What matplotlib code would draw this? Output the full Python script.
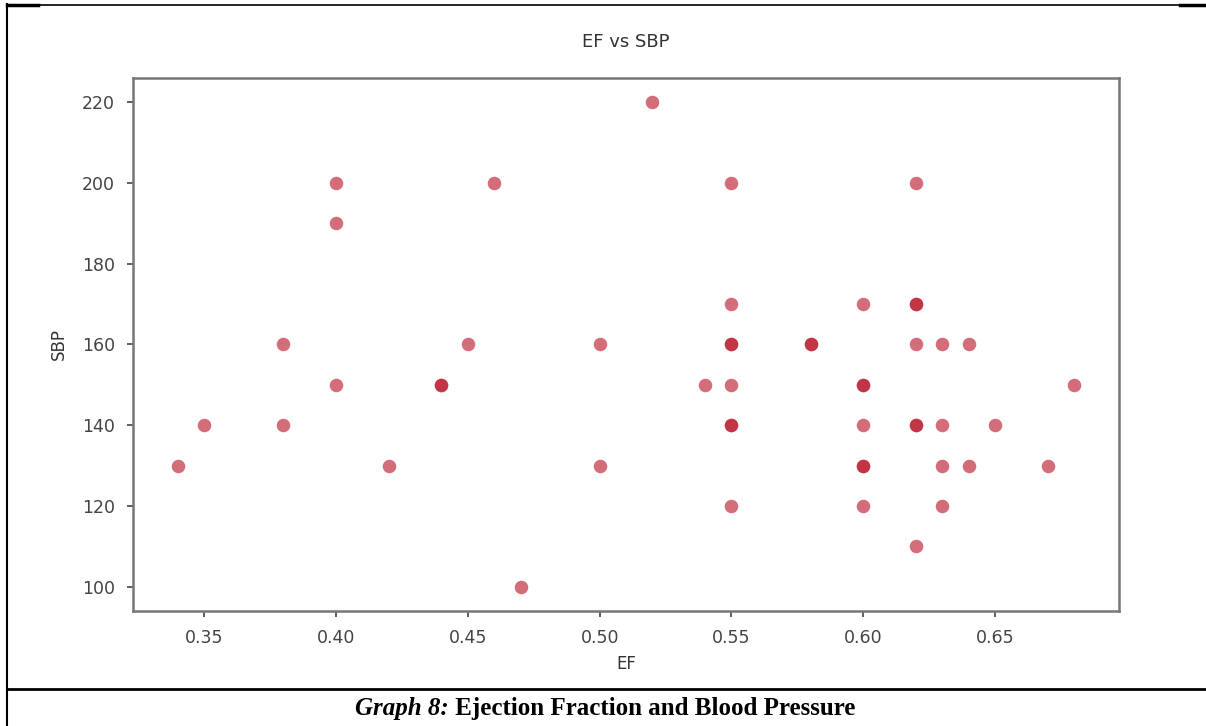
import matplotlib
matplotlib.use("Agg")
import matplotlib.pyplot as plt
from matplotlib.lines import Line2D

ef = [0.34, 0.35, 0.38, 0.38, 0.40, 0.40, 0.40, 0.42, 0.44, 0.44, 0.45, 0.46, 0.47,
      0.50, 0.50, 0.52, 0.54,
      0.55, 0.55, 0.55, 0.55, 0.55, 0.55, 0.55, 0.55,
      0.58, 0.58,
      0.60, 0.60, 0.60, 0.60, 0.60, 0.60, 0.60,
      0.62, 0.62, 0.62, 0.62, 0.62, 0.62, 0.62,
      0.63, 0.63, 0.63, 0.63, 0.64, 0.64, 0.65, 0.67, 0.68]
sbp = [130, 140, 160, 140, 200, 190, 150, 130, 150, 150, 160, 200, 100,
       160, 130, 220, 150,
       200, 170, 160, 160, 150, 140, 140, 120,
       160, 160,
       170, 150, 150, 140, 130, 130, 120,
       200, 170, 170, 160, 140, 140, 110,
       160, 140, 130, 120, 160, 130, 140, 130, 150]

title = "EF vs SBP"
xlabel = "EF"
ylabel = "SBP"
xticks = [0.35, 0.40, 0.45, 0.50, 0.55, 0.60, 0.65]
yticks = [100, 120, 140, 160, 180, 200, 220]
caption_a = "Graph 8:"
caption_b = " Ejection Fraction and Blood Pressure"

W, H = 1206, 726
fig = plt.figure(figsize=(W/100, H/100), dpi=100)
ax = fig.add_axes([133/W, 1-611/H, (1119-133)/W, (611-78)/H])
ax.scatter(ef, sbp, s=95, color=(0.72, 0.08, 0.16), alpha=0.62, linewidths=0)
ax.set_xticks(xticks)
ax.set_xticklabels([f"{t:.2f}" for t in xticks])
ax.set_yticks(yticks)
ax.set_title(title, fontsize=13, color="#333333", pad=22)
ax.set_xlabel(xlabel, fontsize=12, color="#333333", labelpad=6)
ax.set_ylabel(ylabel, fontsize=12, color="#333333", labelpad=10)
ax.tick_params(labelsize=12.5, colors="#444444", length=4, width=1.2, pad=9)
for sp in ax.spines.values():
    sp.set_color("#777777")
    sp.set_linewidth(1.8)

# document table frame
def hline(y, x0, x1, lw):
    fig.add_artist(Line2D([x0/W, x1/W], [1-y/H, 1-y/H], color="black", lw=lw, transform=fig.transFigure))
def vline(x, y0, y1, lw):
    fig.add_artist(Line2D([x/W, x/W], [1-y0/H, 1-y1/H], color="black", lw=lw, transform=fig.transFigure))
hline(4.5, 7, 1206, 1.2)
hline(5, 7, 38, 2.5)
hline(5, 1180, 1206, 2.5)
vline(7, 4, 726, 1.5)
hline(689, 7, 1206, 2.0)

# caption: bold-italic lead + bold remainder, centred as a whole
cy = 1 - 708/H
ta = fig.text(0, cy, caption_a, fontsize=18, fontweight="bold", fontstyle="italic",
              family="Liberation Serif", ha="left", va="center")
tb = fig.text(0, cy, caption_b, fontsize=18, fontweight="bold",
              family="Liberation Serif", ha="left", va="center")
r = fig.canvas.get_renderer()
wa = ta.get_window_extent(r).width
wb = tb.get_window_extent(r).width
x0 = 605 - (wa + wb) / 2
ta.set_x(x0 / W)
tb.set_x((x0 + wa) / W)

fig.savefig("out.png", dpi=100)
